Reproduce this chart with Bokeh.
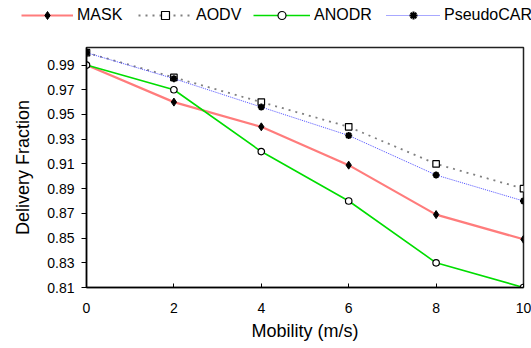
from bokeh.plotting import figure
from bokeh.models import Legend, LegendItem, Range1d, FixedTicker
from bokeh.layouts import column, row
from bokeh.embed import file_html
from bokeh.resources import INLINE

mobility = [0, 2, 4, 6, 8, 10]
mask = [0.99, 0.96, 0.94, 0.909, 0.869, 0.849]
aodv = [1.0, 0.98, 0.96, 0.94, 0.91, 0.89]
anodr = [0.99, 0.97, 0.92, 0.88, 0.83, 0.81]
pseudocar = [1.0, 0.979, 0.956, 0.933, 0.901, 0.88]
series_names = ["MASK", "AODV", "ANODR", "PseudoCAR"]
y_ticks = [0.81, 0.83, 0.85, 0.87, 0.89, 0.91, 0.93, 0.95, 0.97, 0.99]
x_ticks = [0, 2, 4, 6, 8, 10]

FONT = "Liberation Sans"

styles = [
    dict(line=dict(line_color="#ff5050", line_width=2.2, line_alpha=0.75),
         marker=dict(marker="diamond", size=8, fill_color="black", line_color="black")),
    dict(line=dict(line_color="#808080", line_width=1.8, line_dash="2 5"),
         marker=dict(marker="square", size=6.5, fill_color="white", line_color="black", line_width=1.2)),
    dict(line=dict(line_color="#00dd00", line_width=1.6),
         marker=dict(marker="circle", size=6.5, fill_color="white", line_color="black", line_width=1.2)),
    dict(line=dict(line_color="#5050ff", line_width=1, line_dash="1 1"),
         marker=dict(marker="asterisk", size=7, line_color="black", line_width=2)),
]
series = [mask, aodv, anodr, pseudocar]

# ---- main plot ----
p = figure(width=531, height=318, output_backend="svg", toolbar_location=None,
           x_range=Range1d(0, 10), y_range=Range1d(0.81, 1.0042),
           min_border_left=86, min_border_right=8, min_border_top=17, min_border_bottom=61)
p.grid.visible = False
p.outline_line_color = "#222222"
p.outline_line_width = 1.5
p.border_fill_color = "white"

p.xaxis.ticker = FixedTicker(ticks=x_ticks)
p.yaxis.ticker = FixedTicker(ticks=y_ticks)
for ax in (p.xaxis[0], p.yaxis[0]):
    ax.axis_line_color = "black"
    ax.axis_line_width = 1.5
    ax.major_tick_line_color = "black"
    ax.minor_tick_line_color = None
    ax.major_label_text_font = FONT
    ax.major_label_text_font_size = "14px"
    ax.major_label_text_color = "black"
    ax.axis_label_text_font = FONT
    ax.axis_label_text_font_size = "18px"
    ax.axis_label_text_font_style = "normal"
    ax.axis_label_text_color = "black"
p.xaxis.major_tick_out = 0
p.xaxis.major_tick_in = 4
p.xaxis.major_label_standoff = 15
p.yaxis.major_tick_out = 5
p.yaxis.major_tick_in = 0
p.yaxis.major_label_standoff = 7
p.xaxis.axis_label = "Mobility (m/s)"
p.yaxis.axis_label = "Delivery Fraction"
p.xaxis.axis_label_standoff = 5
p.yaxis.axis_label_standoff = 11

for vals, st in zip(series, styles):
    p.line(mobility, vals, **st["line"])
    p.scatter(mobility, vals, **st["marker"])

# ---- legend strip ----
lg = figure(width=531, height=30, output_backend="svg", toolbar_location=None,
            x_range=Range1d(0, 1), y_range=Range1d(0, 1),
            min_border_left=0, min_border_right=0, min_border_top=0, min_border_bottom=0)
lg.axis.visible = False
lg.grid.visible = False
lg.outline_line_color = None
lg.border_fill_color = "white"

positions = [21, 138, 253, 386]
widths = [52, 54, 57, 54]
for name, vals, st, x0, gw in zip(series_names, series, styles, positions, widths):
    rl = lg.line([x + 100 for x in mobility], vals, **st["line"])
    rs = lg.scatter([x + 100 for x in mobility], vals, **st["marker"])
    leg = Legend(items=[LegendItem(label=name, renderers=[rl, rs])],
                 location=(x0, 5), glyph_width=gw, glyph_height=20,
                 label_standoff=4, padding=0, margin=0,
                 border_line_color=None, background_fill_alpha=0,
                 label_text_font=FONT, label_text_font_size="16px",
                 label_text_color="black")
    lg.add_layout(leg, "center")

layout = column(row(lg), row(p), spacing=0)
open("out.html", "w").write(file_html(layout, INLINE))
